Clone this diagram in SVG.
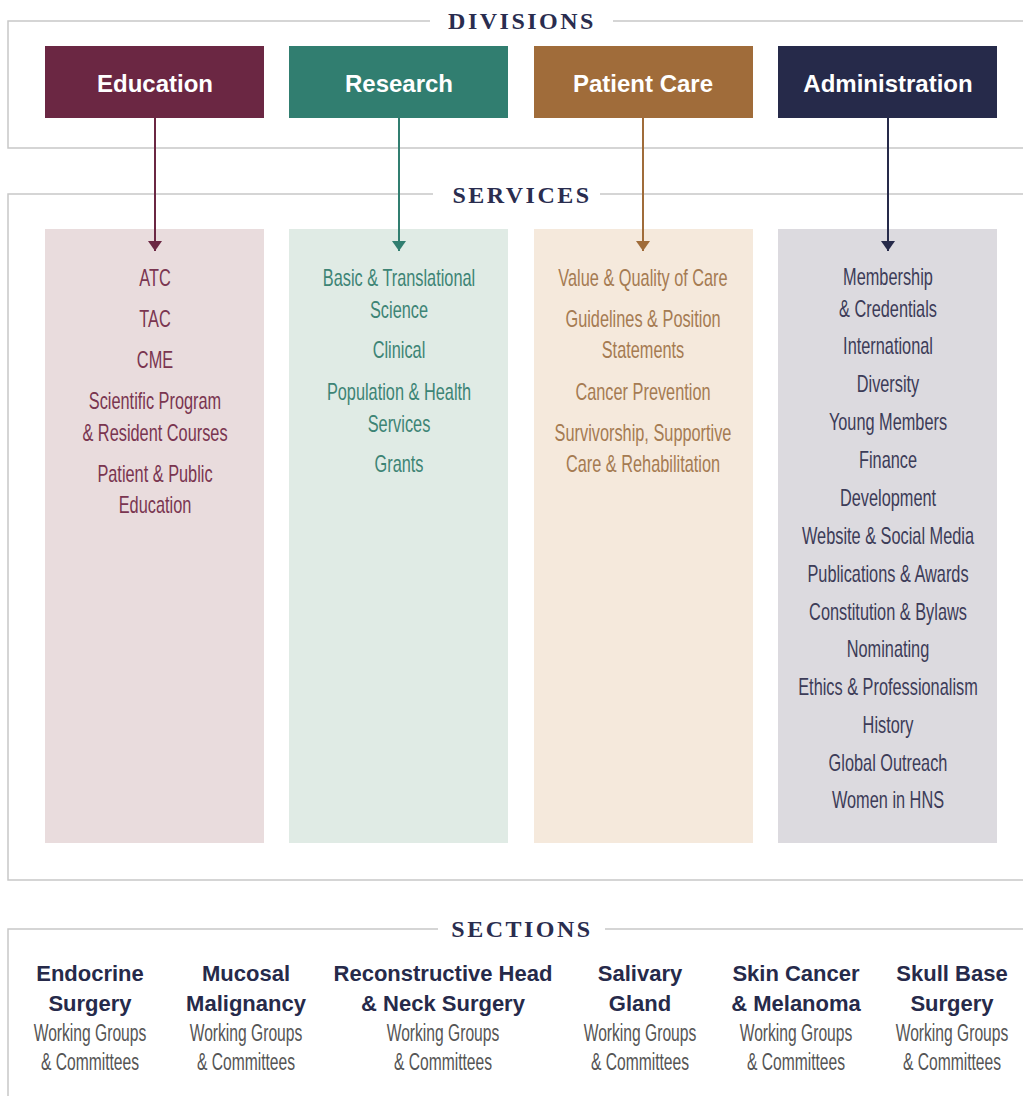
<svg xmlns="http://www.w3.org/2000/svg" width="1023" height="1096" viewBox="0 0 1023 1096">
<style>
.frame{fill:none;stroke:#c8c8c8;stroke-width:1.5}
.head{font-family:"Liberation Serif",serif;font-weight:bold;font-size:24px;fill:#2a2d4f;letter-spacing:2.5px;text-anchor:middle}
.lbl{font-family:"Liberation Sans",Arial,sans-serif;font-weight:bold;font-size:24px;fill:#ffffff;text-anchor:middle}
.svc{font-family:"Liberation Sans",Arial,sans-serif;font-size:24px;text-anchor:middle}
.sec{font-family:"Liberation Sans",Arial,sans-serif;font-weight:bold;font-size:22px;fill:#262a4a;text-anchor:middle}
.sub{font-family:"Liberation Sans",Arial,sans-serif;font-size:23px;fill:#555555;text-anchor:middle}
</style>
<defs>
<marker id="aE" markerWidth="14" markerHeight="10" refX="7" refY="10" markerUnits="userSpaceOnUse" viewBox="0 0 14 10"><path d="M0,0 L14,0 L7,10 Z" fill="#6b2743"/></marker>
<marker id="aR" markerWidth="14" markerHeight="10" refX="7" refY="10" markerUnits="userSpaceOnUse" viewBox="0 0 14 10"><path d="M0,0 L14,0 L7,10 Z" fill="#317e70"/></marker>
<marker id="aP" markerWidth="14" markerHeight="10" refX="7" refY="10" markerUnits="userSpaceOnUse" viewBox="0 0 14 10"><path d="M0,0 L14,0 L7,10 Z" fill="#a06c3a"/></marker>
<marker id="aA" markerWidth="14" markerHeight="10" refX="7" refY="10" markerUnits="userSpaceOnUse" viewBox="0 0 14 10"><path d="M0,0 L14,0 L7,10 Z" fill="#262a4a"/></marker>
</defs>
<rect width="1023" height="1096" fill="#ffffff"/>

<g id="frames">
<path class="frame" d="M430,21 L8,21 L8,148 L1023,148 M613,21 L1023,21"/>
<path class="frame" d="M433,194 L8,194 L8,880 L1023,880 M600,194 L1023,194"/>
<path class="frame" d="M438,929 L8,929 L8,1096 M605,929 L1023,929"/>
<text class="head" x="522" y="29">DIVISIONS</text>
<text class="head" x="522" y="203">SERVICES</text>
<text class="head" x="522" y="937">SECTIONS</text>
</g>

<g id="col-education">
<rect x="45" y="229" width="219" height="614" fill="#e9dcdd"/>
<g transform="translate(155,0) scale(0.68,1)" class="svc" fill="#7a3550">
<text x="0" y="286">ATC</text>
<text x="0" y="327">TAC</text>
<text x="0" y="368">CME</text>
<text x="0" y="409">Scientific Program</text>
<text x="0" y="441">&amp; Resident Courses</text>
<text x="0" y="482">Patient &amp; Public</text>
<text x="0" y="513">Education</text>
</g>
</g>
<g id="col-research">
<rect x="289" y="229" width="219" height="614" fill="#e0ebe5"/>
<g transform="translate(399,0) scale(0.68,1)" class="svc" fill="#3d8475">
<text x="0" y="286">Basic &amp; Translational</text>
<text x="0" y="318">Science</text>
<text x="0" y="358">Clinical</text>
<text x="0" y="400">Population &amp; Health</text>
<text x="0" y="432">Services</text>
<text x="0" y="472">Grants</text>
</g>
</g>
<g id="col-patientcare">
<rect x="534" y="229" width="219" height="614" fill="#f5e9dc"/>
<g transform="translate(643,0) scale(0.68,1)" class="svc" fill="#a57b52">
<text x="0" y="286">Value &amp; Quality of Care</text>
<text x="0" y="327">Guidelines &amp; Position</text>
<text x="0" y="358">Statements</text>
<text x="0" y="400">Cancer Prevention</text>
<text x="0" y="441">Survivorship, Supportive</text>
<text x="0" y="472">Care &amp; Rehabilitation</text>
</g>
</g>
<g id="col-administration">
<rect x="778" y="229" width="219" height="614" fill="#dcdadf"/>
<g transform="translate(888,0) scale(0.68,1)" class="svc" fill="#3c3c58">
<text x="0" y="285">Membership</text>
<text x="0" y="317">&amp; Credentials</text>
<text x="0" y="354">International</text>
<text x="0" y="392">Diversity</text>
<text x="0" y="430">Young Members</text>
<text x="0" y="468">Finance</text>
<text x="0" y="506">Development</text>
<text x="0" y="544">Website &amp; Social Media</text>
<text x="0" y="582">Publications &amp; Awards</text>
<text x="0" y="620">Constitution &amp; Bylaws</text>
<text x="0" y="657">Nominating</text>
<text x="0" y="695">Ethics &amp; Professionalism</text>
<text x="0" y="733">History</text>
<text x="0" y="771">Global Outreach</text>
<text x="0" y="808">Women in HNS</text>
</g>
</g>

<g id="div-education"><rect x="45" y="46" width="219" height="72" fill="#6b2743"/><text class="lbl" x="155" y="92">Education</text></g>
<g id="div-research"><rect x="289" y="46" width="219" height="72" fill="#317e70"/><text class="lbl" x="399" y="92">Research</text></g>
<g id="div-patientcare"><rect x="534" y="46" width="219" height="72" fill="#a06c3a"/><text class="lbl" x="643" y="92">Patient Care</text></g>
<g id="div-administration"><rect x="778" y="46" width="219" height="72" fill="#262a4a"/><text class="lbl" x="888" y="92">Administration</text></g>

<g id="connectors" stroke-width="2" fill="none">
<line x1="155" y1="118" x2="155" y2="251" stroke="#6b2743" marker-end="url(#aE)"/>
<line x1="399" y1="118" x2="399" y2="251" stroke="#317e70" marker-end="url(#aR)"/>
<line x1="643" y1="118" x2="643" y2="251" stroke="#a06c3a" marker-end="url(#aP)"/>
<line x1="888" y1="118" x2="888" y2="251" stroke="#262a4a" marker-end="url(#aA)"/>
</g>

<g id="sec-endocrine"><text class="sec" x="90" y="981">Endocrine</text><text class="sec" x="90" y="1011">Surgery</text>
<g transform="translate(90,0) scale(0.68,1)"><text class="sub" x="0" y="1041">Working Groups</text><text class="sub" x="0" y="1070">&amp; Committees</text></g></g>
<g id="sec-mucosal"><text class="sec" x="246" y="981">Mucosal</text><text class="sec" x="246" y="1011">Malignancy</text>
<g transform="translate(246,0) scale(0.68,1)"><text class="sub" x="0" y="1041">Working Groups</text><text class="sub" x="0" y="1070">&amp; Committees</text></g></g>
<g id="sec-reconstructive"><text class="sec" x="443" y="981">Reconstructive Head</text><text class="sec" x="443" y="1011">&amp; Neck Surgery</text>
<g transform="translate(443,0) scale(0.68,1)"><text class="sub" x="0" y="1041">Working Groups</text><text class="sub" x="0" y="1070">&amp; Committees</text></g></g>
<g id="sec-salivary"><text class="sec" x="640" y="981">Salivary</text><text class="sec" x="640" y="1011">Gland</text>
<g transform="translate(640,0) scale(0.68,1)"><text class="sub" x="0" y="1041">Working Groups</text><text class="sub" x="0" y="1070">&amp; Committees</text></g></g>
<g id="sec-skin"><text class="sec" x="796" y="981">Skin Cancer</text><text class="sec" x="796" y="1011">&amp; Melanoma</text>
<g transform="translate(796,0) scale(0.68,1)"><text class="sub" x="0" y="1041">Working Groups</text><text class="sub" x="0" y="1070">&amp; Committees</text></g></g>
<g id="sec-skullbase"><text class="sec" x="952" y="981">Skull Base</text><text class="sec" x="952" y="1011">Surgery</text>
<g transform="translate(952,0) scale(0.68,1)"><text class="sub" x="0" y="1041">Working Groups</text><text class="sub" x="0" y="1070">&amp; Committees</text></g></g>
</svg>
